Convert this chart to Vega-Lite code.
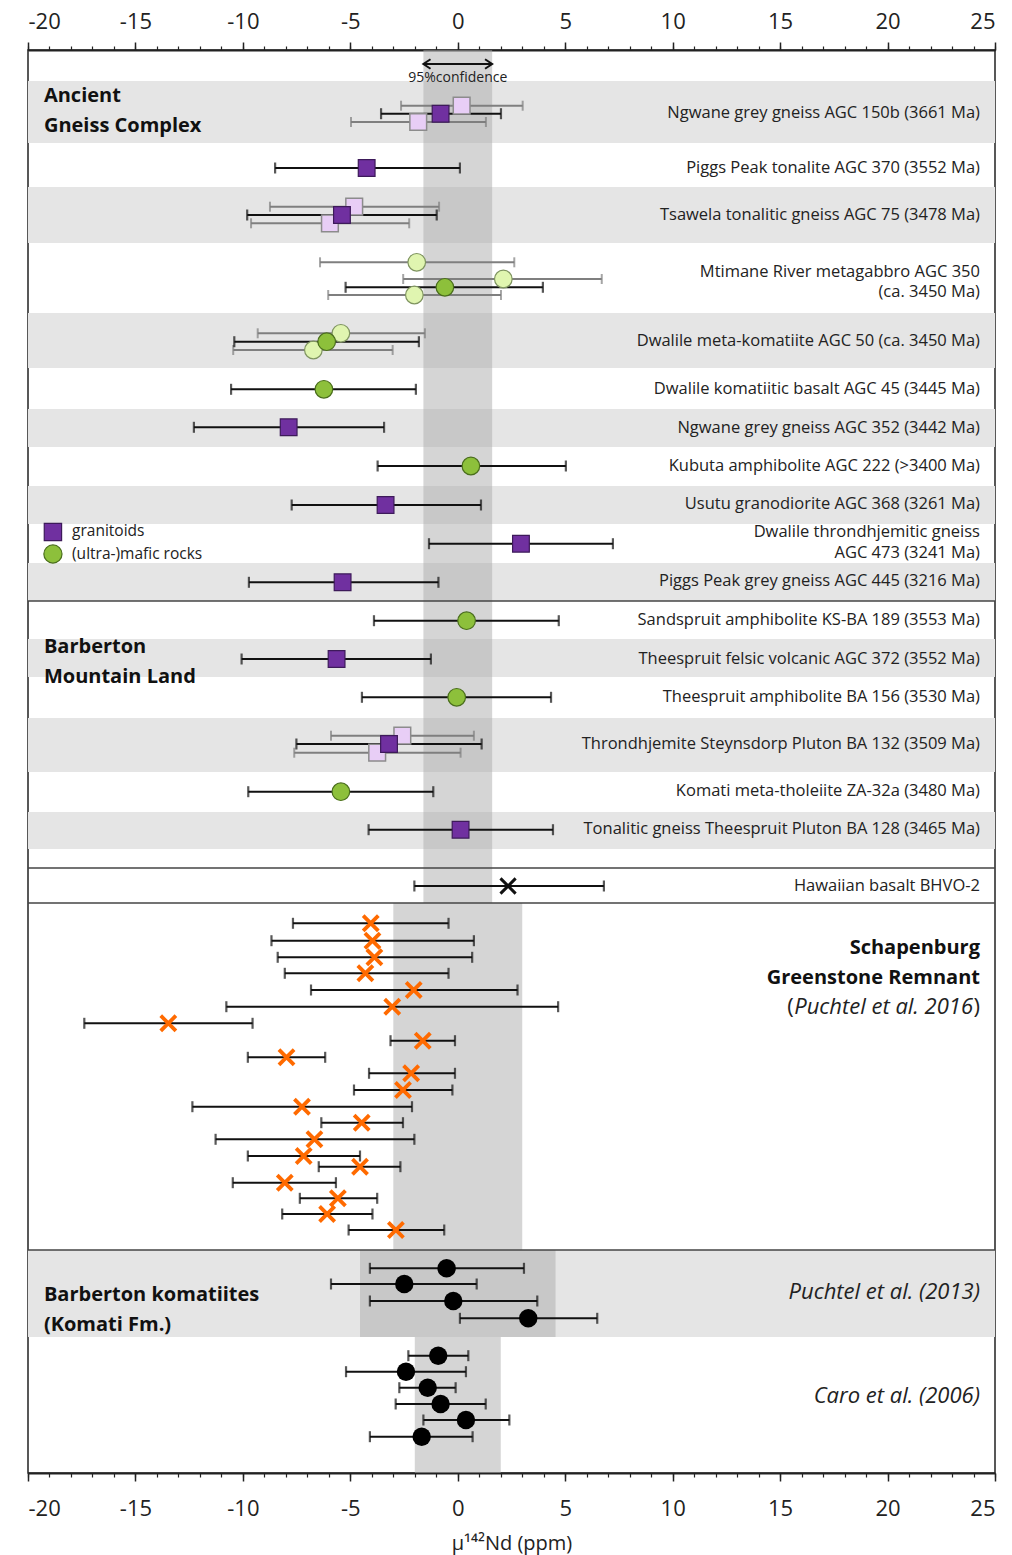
{
  "$schema": "https://vega.github.io/schema/vega-lite/v6.json",
  "width": 967,
  "height": 1423,
  "autosize": "none",
  "padding": {"left": 28, "top": 50, "right": 17, "bottom": 82},
  "background": "white",
  "config": {
    "font": "Open Sans",
    "view": {"stroke": "#222", "strokeWidth": 1.5},
    "text": {"font": "Open Sans", "color": "#1a1a1a"},
    "axis": {"labelFont": "Open Sans", "titleFont": "Open Sans", "grid": false}
  },
  "datasets": {
    "bands": [
      {"y1": 81, "y2": 143}, {"y1": 187, "y2": 243}, {"y1": 313, "y2": 368},
      {"y1": 409, "y2": 447}, {"y1": 486, "y2": 524}, {"y1": 563, "y2": 601},
      {"y1": 639, "y2": 677}, {"y1": 718, "y2": 772}, {"y1": 812, "y2": 849},
      {"y1": 1250, "y2": 1337}
    ],
    "conf": [
      {"lo": -1.6, "hi": 1.6, "y1": 50, "y2": 903},
      {"lo": -3.0, "hi": 3.0, "y1": 903, "y2": 1250},
      {"lo": -4.55, "hi": 4.55, "y1": 1250, "y2": 1337},
      {"lo": -2.0, "hi": 2.0, "y1": 1337, "y2": 1473}
    ],
    "seps": [{"y": 601}, {"y": 868}, {"y": 903}, {"y": 1250}],
    "obs": [
      {"y": 105.7, "v": 0.18, "lo": -2.64, "hi": 3.02, "k": "gl"},
      {"y": 113.7, "v": -0.8, "lo": -3.57, "hi": 2.01, "k": "g"},
      {"y": 122, "v": -1.84, "lo": -4.97, "hi": 1.31, "k": "gl"},
      {"y": 168, "v": -4.24, "lo": -8.5, "hi": 0.1, "k": "g"},
      {"y": 206.7, "v": -4.82, "lo": -8.74, "hi": -0.87, "k": "gl"},
      {"y": 215, "v": -5.39, "lo": -9.8, "hi": -0.98, "k": "g"},
      {"y": 223.3, "v": -5.95, "lo": -9.62, "hi": -2.26, "k": "gl"},
      {"y": 262.3, "v": -1.91, "lo": -6.41, "hi": 2.63, "k": "ml"},
      {"y": 279, "v": 2.12, "lo": -2.54, "hi": 6.7, "k": "ml"},
      {"y": 287.3, "v": -0.6, "lo": -5.22, "hi": 3.96, "k": "m"},
      {"y": 295, "v": -2.02, "lo": -6.03, "hi": 2.01, "k": "ml"},
      {"y": 333.3, "v": -5.44, "lo": -9.31, "hi": -1.53, "k": "ml"},
      {"y": 341.7, "v": -6.1, "lo": -10.4, "hi": -1.81, "k": "m"},
      {"y": 350, "v": -6.72, "lo": -10.45, "hi": -3.03, "k": "ml"},
      {"y": 389.3, "v": -6.23, "lo": -10.55, "hi": -1.95, "k": "m"},
      {"y": 427.3, "v": -7.87, "lo": -12.28, "hi": -3.43, "k": "g"},
      {"y": 466, "v": 0.61, "lo": -3.73, "hi": 5.03, "k": "m"},
      {"y": 505, "v": -3.36, "lo": -7.73, "hi": 1.08, "k": "g"},
      {"y": 543.7, "v": 2.94, "lo": -1.34, "hi": 7.22, "k": "g"},
      {"y": 582.3, "v": -5.36, "lo": -9.72, "hi": -0.9, "k": "g"},
      {"y": 620.7, "v": 0.41, "lo": -3.9, "hi": 4.7, "k": "m"},
      {"y": 659, "v": -5.64, "lo": -10.06, "hi": -1.25, "k": "g"},
      {"y": 697.3, "v": -0.05, "lo": -4.46, "hi": 4.34, "k": "m"},
      {"y": 735.7, "v": -2.58, "lo": -5.9, "hi": 0.75, "k": "gl"},
      {"y": 744, "v": -3.2, "lo": -7.51, "hi": 1.11, "k": "g"},
      {"y": 752.7, "v": -3.75, "lo": -7.61, "hi": 0.13, "k": "gl"},
      {"y": 791.7, "v": -5.44, "lo": -9.75, "hi": -1.14, "k": "m"},
      {"y": 829.7, "v": 0.13, "lo": -4.15, "hi": 4.43, "k": "g"},
      {"y": 886, "v": 2.34, "lo": -2.02, "hi": 6.8, "k": "h"},
      {"y": 923.3, "v": -4.05, "lo": -7.67, "hi": -0.43, "k": "s"},
      {"y": 940.7, "v": -3.97, "lo": -8.67, "hi": 0.75, "k": "s"},
      {"y": 957.3, "v": -3.88, "lo": -8.38, "hi": 0.67, "k": "s"},
      {"y": 973.3, "v": -4.3, "lo": -8.05, "hi": -0.43, "k": "s"},
      {"y": 990, "v": -2.05, "lo": -6.83, "hi": 2.78, "k": "s"},
      {"y": 1006.7, "v": -3.05, "lo": -10.77, "hi": 4.67, "k": "s"},
      {"y": 1023.3, "v": -13.47, "lo": -17.38, "hi": -9.55, "k": "s"},
      {"y": 1040.7, "v": -1.63, "lo": -3.13, "hi": -0.13, "k": "s"},
      {"y": 1057.3, "v": -7.97, "lo": -9.77, "hi": -6.17, "k": "s"},
      {"y": 1073.3, "v": -2.17, "lo": -4.13, "hi": -0.13, "k": "s"},
      {"y": 1090, "v": -2.55, "lo": -4.83, "hi": -0.25, "k": "s"},
      {"y": 1106.7, "v": -7.25, "lo": -12.35, "hi": -2.13, "k": "s"},
      {"y": 1122.7, "v": -4.47, "lo": -6.35, "hi": -2.55, "k": "s"},
      {"y": 1139.3, "v": -6.67, "lo": -11.27, "hi": -2.02, "k": "s"},
      {"y": 1156, "v": -7.17, "lo": -9.77, "hi": -4.55, "k": "s"},
      {"y": 1166.7, "v": -4.55, "lo": -6.47, "hi": -2.67, "k": "s"},
      {"y": 1182.7, "v": -8.05, "lo": -10.47, "hi": -5.67, "k": "s"},
      {"y": 1198.3, "v": -5.58, "lo": -7.35, "hi": -3.75, "k": "s"},
      {"y": 1214, "v": -6.08, "lo": -8.17, "hi": -3.97, "k": "s"},
      {"y": 1230, "v": -2.88, "lo": -5.08, "hi": -0.63, "k": "s"},
      {"y": 1268.3, "v": -0.52, "lo": -4.09, "hi": 3.08, "k": "k"},
      {"y": 1284, "v": -2.49, "lo": -5.9, "hi": 0.88, "k": "k"},
      {"y": 1301, "v": -0.21, "lo": -4.09, "hi": 3.7, "k": "k"},
      {"y": 1318.3, "v": 3.28, "lo": 0.1, "hi": 6.49, "k": "k"},
      {"y": 1355.7, "v": -0.91, "lo": -2.3, "hi": 0.49, "k": "k"},
      {"y": 1371.7, "v": -2.41, "lo": -5.2, "hi": 0.38, "k": "k"},
      {"y": 1387.7, "v": -1.4, "lo": -2.72, "hi": -0.1, "k": "k"},
      {"y": 1404, "v": -0.8, "lo": -2.89, "hi": 1.3, "k": "k"},
      {"y": 1420, "v": 0.38, "lo": -1.6, "hi": 2.4, "k": "k"},
      {"y": 1436.7, "v": -1.68, "lo": -4.09, "hi": 0.69, "k": "k"}
    ],
    "rowLabels": [
      {"y": 113, "label": "Ngwane grey gneiss AGC 150b (3661 Ma)"},
      {"y": 168, "label": "Piggs Peak tonalite AGC 370 (3552 Ma)"},
      {"y": 215, "label": "Tsawela tonalitic gneiss AGC 75 (3478 Ma)"},
      {"y": 272, "label": "Mtimane River metagabbro AGC 350"},
      {"y": 292, "label": "(ca. 3450 Ma)"},
      {"y": 341, "label": "Dwalile meta-komatiite AGC 50 (ca. 3450 Ma)"},
      {"y": 389, "label": "Dwalile komatiitic basalt AGC 45 (3445 Ma)"},
      {"y": 428, "label": "Ngwane grey gneiss AGC 352 (3442 Ma)"},
      {"y": 466, "label": "Kubuta amphibolite AGC 222 (>3400 Ma)"},
      {"y": 504, "label": "Usutu granodiorite AGC 368 (3261 Ma)"},
      {"y": 532, "label": "Dwalile throndhjemitic gneiss"},
      {"y": 553, "label": "AGC 473 (3241 Ma)"},
      {"y": 581, "label": "Piggs Peak grey gneiss AGC 445 (3216 Ma)"},
      {"y": 620, "label": "Sandspruit amphibolite KS-BA 189 (3553 Ma)"},
      {"y": 659, "label": "Theespruit felsic volcanic AGC 372 (3552 Ma)"},
      {"y": 697, "label": "Theespruit amphibolite BA 156 (3530 Ma)"},
      {"y": 744, "label": "Throndhjemite Steynsdorp Pluton BA 132 (3509 Ma)"},
      {"y": 791, "label": "Komati meta-tholeiite ZA-32a (3480 Ma)"},
      {"y": 829, "label": "Tonalitic gneiss Theespruit Pluton BA 128 (3465 Ma)"},
      {"y": 886, "label": "Hawaiian basalt BHVO-2"}
    ],
    "leftTitles": [
      {"y": 96, "label": "Ancient"},
      {"y": 126, "label": "Gneiss Complex"},
      {"y": 647, "label": "Barberton"},
      {"y": 677, "label": "Mountain Land"},
      {"y": 1295, "label": "Barberton komatiites"},
      {"y": 1325, "label": "(Komati Fm.)"}
    ],
    "rightBold": [
      {"y": 948, "label": "Schapenburg"},
      {"y": 978, "label": "Greenstone Remnant"}
    ],
    "refs": [
      {"y": 1292, "label": "Puchtel et al. (2013)"},
      {"y": 1396, "label": "Caro et al. (2006)"}
    ]
  },
  "resolve": {"axis": {"x": "independent"}},
  "layer": [
    {
      "data": {"name": "bands"},
      "mark": {"type": "rect", "color": "#e5e5e5"},
      "encoding": {
        "x": {"datum": -20, "type": "quantitative", "scale": {"domain": [-20, 25], "nice": false, "zero": false},
          "axis": {"orient": "top", "values": [-20, -15, -10, -5, 0, 5, 10, 15, 20, 25], "labelExpr": "'' + datum.value", "tickSize": 8, "tickWidth": 1.5, "tickColor": "#222", "domainColor": "#222", "domainWidth": 2, "labelFontSize": 22, "labelColor": "#222", "labelPadding": 9, "title": null}},
        "x2": {"datum": 25},
        "y": {"field": "y1", "type": "quantitative", "scale": {"domain": [50, 1473], "reverse": true, "nice": false, "zero": false}, "axis": null},
        "y2": {"field": "y2"}
      }
    },
    {
      "data": {"name": "conf"},
      "mark": {"type": "rect", "color": "#ababab", "opacity": 0.5},
      "encoding": {
        "x": {"field": "lo", "type": "quantitative",
          "axis": {"orient": "top", "values": [-20,-19,-18,-17,-16,-15,-14,-13,-12,-11,-10,-9,-8,-7,-6,-5,-4,-3,-2,-1,0,1,2,3,4,5,6,7,8,9,10,11,12,13,14,15,16,17,18,19,20,21,22,23,24,25], "tickSize": 4, "tickWidth": 1.2, "tickColor": "#222", "domain": false, "labels": false, "title": null}},
        "x2": {"field": "hi"},
        "y": {"field": "y1", "type": "quantitative", "scale": {"domain": [50, 1473], "reverse": true, "nice": false, "zero": false}, "axis": null},
        "y2": {"field": "y2"}
      }
    },
    {
      "mark": {"type": "rule", "color": "#666", "strokeWidth": 2.5},
      "encoding": {
        "x": {"datum": 0, "type": "quantitative",
          "axis": {"orient": "bottom", "values": [-20, -15, -10, -5, 0, 5, 10, 15, 20, 25], "labelExpr": "'' + datum.value", "tickSize": 8, "tickWidth": 1.5, "tickColor": "#222", "domainColor": "#222", "domainWidth": 2, "labelFontSize": 22, "labelColor": "#222", "labelPadding": 17, "title": "μ¹⁴²Nd (ppm)", "titleFontSize": 20, "titleFontWeight": "normal", "titleColor": "#222", "titlePadding": 14}}
      }
    },
    {
      "data": {"name": "seps"},
      "mark": {"type": "rule", "color": "#444", "strokeWidth": 1.5},
      "encoding": {
        "y": {"field": "y", "type": "quantitative", "scale": {"domain": [50, 1473], "reverse": true, "nice": false, "zero": false}, "axis": null}
      }
    },
    {
      "data": {"name": "obs"},
      "transform": [{"filter": "datum.k == 'gl' || datum.k == 'ml'"}],
      "mark": {"type": "rule", "color": "#7f7f7f", "strokeWidth": 2},
      "encoding": {
        "x": {"field": "lo", "type": "quantitative",
          "axis": {"orient": "bottom", "values": [-20,-19,-18,-17,-16,-15,-14,-13,-12,-11,-10,-9,-8,-7,-6,-5,-4,-3,-2,-1,0,1,2,3,4,5,6,7,8,9,10,11,12,13,14,15,16,17,18,19,20,21,22,23,24,25], "tickSize": 4, "tickWidth": 1.2, "tickColor": "#222", "domain": false, "labels": false, "title": null}},
        "x2": {"field": "hi"},
        "y": {"field": "y", "type": "quantitative", "scale": {"domain": [50, 1473], "reverse": true, "nice": false, "zero": false}, "axis": null}
      }
    },
    {
      "data": {"name": "obs"},
      "transform": [{"filter": "datum.k == 'gl' || datum.k == 'ml'"}, {"fold": ["lo", "hi"], "as": ["end", "xe"]}],
      "mark": {"type": "tick", "orient": "vertical", "color": "#7f7f7f", "thickness": 2, "size": 10},
      "encoding": {
        "x": {"field": "xe", "type": "quantitative", "axis": null},
        "y": {"field": "y", "type": "quantitative", "axis": null}
      }
    },
    {
      "data": {"name": "obs"},
      "transform": [{"filter": "datum.k != 'gl' && datum.k != 'ml'"}],
      "mark": {"type": "rule", "color": "#111", "strokeWidth": 2},
      "encoding": {
        "x": {"field": "lo", "type": "quantitative", "axis": null},
        "x2": {"field": "hi"},
        "y": {"field": "y", "type": "quantitative", "axis": null}
      }
    },
    {
      "data": {"name": "obs"},
      "transform": [{"filter": "datum.k != 'gl' && datum.k != 'ml'"}, {"fold": ["lo", "hi"], "as": ["end", "xe"]}],
      "mark": {"type": "tick", "orient": "vertical", "color": "#111", "thickness": 2.2, "size": 11},
      "encoding": {
        "x": {"field": "xe", "type": "quantitative", "axis": null},
        "y": {"field": "y", "type": "quantitative", "axis": null}
      }
    },
    {
      "data": {"name": "obs"},
      "transform": [{"filter": "datum.k == 'gl'"}],
      "mark": {"type": "point", "shape": "square", "filled": true, "fill": "#e8cef6", "stroke": "#8c8c8c", "strokeWidth": 1.5, "size": 280, "opacity": 1},
      "encoding": {
        "x": {"field": "v", "type": "quantitative", "axis": null},
        "y": {"field": "y", "type": "quantitative", "axis": null}
      }
    },
    {
      "data": {"name": "obs"},
      "transform": [{"filter": "datum.k == 'ml'"}],
      "mark": {"type": "point", "shape": "circle", "filled": true, "fill": "#e0f5b0", "stroke": "#7f9460", "strokeWidth": 1.2, "size": 310, "opacity": 1},
      "encoding": {
        "x": {"field": "v", "type": "quantitative", "axis": null},
        "y": {"field": "y", "type": "quantitative", "axis": null}
      }
    },
    {
      "data": {"name": "obs"},
      "transform": [{"filter": "datum.k == 'g'"}],
      "mark": {"type": "point", "shape": "square", "filled": true, "fill": "#7030a0", "stroke": "#3d1a5a", "strokeWidth": 1.2, "size": 280, "opacity": 1},
      "encoding": {
        "x": {"field": "v", "type": "quantitative", "axis": null},
        "y": {"field": "y", "type": "quantitative", "axis": null}
      }
    },
    {
      "data": {"name": "obs"},
      "transform": [{"filter": "datum.k == 'm'"}],
      "mark": {"type": "point", "shape": "circle", "filled": true, "fill": "#8dc03b", "stroke": "#4a6e1c", "strokeWidth": 1.2, "size": 310, "opacity": 1},
      "encoding": {
        "x": {"field": "v", "type": "quantitative", "axis": null},
        "y": {"field": "y", "type": "quantitative", "axis": null}
      }
    },
    {
      "data": {"name": "obs"},
      "transform": [{"filter": "datum.k == 's'"}],
      "mark": {"type": "point", "shape": "M-1,-1L1,1M-1,1L1,-1", "filled": false, "stroke": "#ff6a00", "strokeWidth": 3.8, "size": 230, "opacity": 1},
      "encoding": {
        "x": {"field": "v", "type": "quantitative", "axis": null},
        "y": {"field": "y", "type": "quantitative", "axis": null}
      }
    },
    {
      "data": {"name": "obs"},
      "transform": [{"filter": "datum.k == 'h'"}],
      "mark": {"type": "point", "shape": "M-1,-1L1,1M-1,1L1,-1", "filled": false, "stroke": "#111", "strokeWidth": 3, "size": 230, "opacity": 1},
      "encoding": {
        "x": {"field": "v", "type": "quantitative", "axis": null},
        "y": {"field": "y", "type": "quantitative", "axis": null}
      }
    },
    {
      "data": {"name": "obs"},
      "transform": [{"filter": "datum.k == 'k'"}],
      "mark": {"type": "point", "shape": "circle", "filled": true, "fill": "#000", "size": 340, "opacity": 1},
      "encoding": {
        "x": {"field": "v", "type": "quantitative", "axis": null},
        "y": {"field": "y", "type": "quantitative", "axis": null}
      }
    },
    {
      "data": {"values": [{"lo": -1.6, "hi": 1.6, "y": 64}]},
      "mark": {"type": "rule", "color": "#111", "strokeWidth": 1.8},
      "encoding": {
        "x": {"field": "lo", "type": "quantitative", "axis": null},
        "x2": {"field": "hi"},
        "y": {"field": "y", "type": "quantitative", "axis": null}
      }
    },
    {
      "data": {"values": [{"x": -1.6, "y": 64}]},
      "mark": {"type": "point", "shape": "M1.5,-1L0,0L1.5,1", "filled": false, "stroke": "#111", "strokeWidth": 2, "size": 90, "opacity": 1},
      "encoding": {
        "x": {"field": "x", "type": "quantitative", "axis": null},
        "y": {"field": "y", "type": "quantitative", "axis": null}
      }
    },
    {
      "data": {"values": [{"x": 1.6, "y": 64}]},
      "mark": {"type": "point", "shape": "M-1.5,-1L0,0L-1.5,1", "filled": false, "stroke": "#111", "strokeWidth": 2, "size": 90, "opacity": 1},
      "encoding": {
        "x": {"field": "x", "type": "quantitative", "axis": null},
        "y": {"field": "y", "type": "quantitative", "axis": null}
      }
    },
    {
      "data": {"values": [{"y": 78, "label": "95%confidence"}]},
      "mark": {"type": "text", "fontSize": 14, "align": "center", "color": "#222"},
      "encoding": {
        "x": {"datum": 0, "type": "quantitative", "axis": null},
        "y": {"field": "y", "type": "quantitative", "axis": null},
        "text": {"field": "label"}
      }
    },
    {
      "data": {"name": "rowLabels"},
      "mark": {"type": "text", "fontSize": 16.5, "align": "right", "color": "#222"},
      "encoding": {
        "x": {"datum": 24.3, "type": "quantitative", "axis": null},
        "y": {"field": "y", "type": "quantitative", "axis": null},
        "text": {"field": "label"}
      }
    },
    {
      "data": {"name": "leftTitles"},
      "mark": {"type": "text", "fontSize": 20, "fontWeight": "bold", "align": "left", "color": "#111"},
      "encoding": {
        "x": {"datum": -19.26, "type": "quantitative", "axis": null},
        "y": {"field": "y", "type": "quantitative", "axis": null},
        "text": {"field": "label"}
      }
    },
    {
      "data": {"name": "rightBold"},
      "mark": {"type": "text", "fontSize": 20, "fontWeight": "bold", "align": "right", "color": "#111"},
      "encoding": {
        "x": {"datum": 24.3, "type": "quantitative", "axis": null},
        "y": {"field": "y", "type": "quantitative", "axis": null},
        "text": {"field": "label"}
      }
    },
    {
      "data": {"name": "refs"},
      "mark": {"type": "text", "fontSize": 22, "fontStyle": "italic", "align": "right", "color": "#222"},
      "encoding": {
        "x": {"datum": 24.3, "type": "quantitative", "axis": null},
        "y": {"field": "y", "type": "quantitative", "axis": null},
        "text": {"field": "label"}
      }
    },
    {
      "data": {"values": [{"y": 1007, "label": "Puchtel et al. 2016"}]},
      "mark": {"type": "text", "fontSize": 22, "fontStyle": "italic", "align": "right", "color": "#222"},
      "encoding": {
        "x": {"datum": 23.98, "type": "quantitative", "axis": null},
        "y": {"field": "y", "type": "quantitative", "axis": null},
        "text": {"field": "label"}
      }
    },
    {
      "data": {"values": [{"y": 1007, "label": ")"}]},
      "mark": {"type": "text", "fontSize": 22, "align": "right", "color": "#222"},
      "encoding": {
        "x": {"datum": 24.3, "type": "quantitative", "axis": null},
        "y": {"field": "y", "type": "quantitative", "axis": null},
        "text": {"field": "label"}
      }
    },
    {
      "data": {"values": [{"y": 1007, "label": "("}]},
      "mark": {"type": "text", "fontSize": 22, "align": "right", "color": "#222"},
      "encoding": {
        "x": {"datum": 15.64, "type": "quantitative", "axis": null},
        "y": {"field": "y", "type": "quantitative", "axis": null},
        "text": {"field": "label"}
      }
    },
    {
      "data": {"values": [{"y": 532}]},
      "mark": {"type": "point", "shape": "square", "filled": true, "fill": "#7030a0", "stroke": "#3d1a5a", "strokeWidth": 1.2, "size": 300, "opacity": 1},
      "encoding": {
        "x": {"datum": -18.84, "type": "quantitative", "axis": null},
        "y": {"field": "y", "type": "quantitative", "axis": null}
      }
    },
    {
      "data": {"values": [{"y": 554}]},
      "mark": {"type": "point", "shape": "circle", "filled": true, "fill": "#8dc03b", "stroke": "#4a6e1c", "strokeWidth": 1.2, "size": 330, "opacity": 1},
      "encoding": {
        "x": {"datum": -18.84, "type": "quantitative", "axis": null},
        "y": {"field": "y", "type": "quantitative", "axis": null}
      }
    },
    {
      "data": {"values": [{"y": 531, "label": "granitoids"}, {"y": 554, "label": "(ultra-)mafic rocks"}]},
      "mark": {"type": "text", "fontSize": 15.5, "align": "left", "color": "#222"},
      "encoding": {
        "x": {"datum": -17.95, "type": "quantitative", "axis": null},
        "y": {"field": "y", "type": "quantitative", "axis": null},
        "text": {"field": "label"}
      }
    }
  ]
}
